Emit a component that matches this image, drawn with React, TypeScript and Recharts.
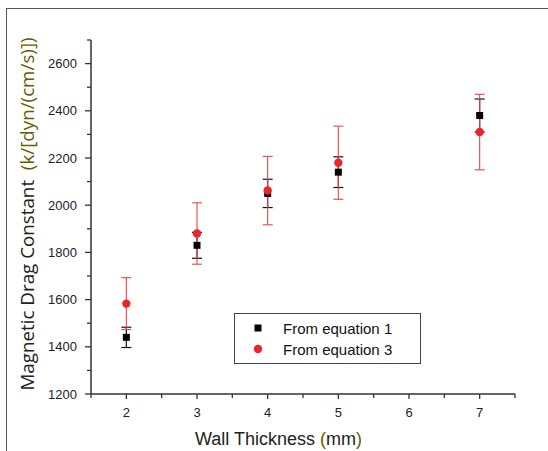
import React from "react";
import { ScatterChart, Scatter, XAxis, YAxis, ErrorBar, Legend } from "recharts";

const thickness = [2, 3, 4, 5, 7];
const eq1Values = [1440, 1830, 2050, 2140, 2380];
const eq1Errors = [43, 55, 60, 65, 70];
const eq3Values = [1583, 1880, 2062, 2180, 2310];
const eq3Errors = [110, 130, 145, 155, 160];

const xTicks = [1.5, 2, 2.5, 3, 3.5, 4, 4.5, 5, 5.5, 6, 6.5, 7, 7.5];
const xLabels = [2, 3, 4, 5, 6, 7];
const yTicks = [1200, 1300, 1400, 1500, 1600, 1700, 1800, 1900, 2000, 2100, 2200, 2300, 2400, 2500, 2600, 2700];
const yLabels = [1200, 1400, 1600, 1800, 2000, 2200, 2400, 2600];

const eq1Data = thickness.map((x, i) => ({ x, y: eq1Values[i], err: eq1Errors[i] }));
const eq3Data = thickness.map((x, i) => ({ x, y: eq3Values[i], err: eq3Errors[i] }));

const FONT = "Arial, 'Liberation Sans', sans-serif";
const AXIS = "#333";
const RED = "#e8262b";
const OLIVE = "#6b5a00";

const XTick = ({ x, y, payload }: any) => {
  const major = xLabels.includes(payload.value);
  return (
    <g>
      <line x1={x} x2={x} y1={y} y2={y + (major ? 5 : 4)} stroke={AXIS} strokeWidth={1.3} />
      {major && (
        <text x={x} y={y + 23} textAnchor="middle" fontSize={13} fontFamily={FONT} fill="#222">
          {payload.value}
        </text>
      )}
    </g>
  );
};

const YTick = ({ x, y, payload }: any) => {
  const major = yLabels.includes(payload.value);
  return (
    <g>
      <line x1={x - (major ? 6 : 4)} x2={x} y1={y} y2={y} stroke={AXIS} strokeWidth={1.3} />
      {major && (
        <text x={x - 14} y={y + 4.5} textAnchor="end" fontSize={13} fontFamily={FONT} fill="#222">
          {payload.value}
        </text>
      )}
    </g>
  );
};

const SquareShape = ({ cx, cy }: any) => <rect x={cx - 3.5} y={cy - 3.5} width={7} height={7} fill="#000" />;
const CircleShape = ({ cx, cy }: any) => <circle cx={cx} cy={cy} r={4.2} fill={RED} />;

const LegendBox = () => (
  <div
    style={{
      position: "relative",
      width: 187,
      height: 51,
      boxSizing: "border-box",
      border: "1.5px solid #444",
      background: "#fff",
      fontFamily: FONT,
      fontSize: 15,
      color: "#111",
    }}
  >
    <svg width={14} height={51} style={{ position: "absolute", left: 16, top: 0 }}>
      <rect x={3.5} y={10.5} width={7} height={7} fill="#000" />
      <circle cx={7} cy={35} r={4.2} fill={RED} />
    </svg>
    <div style={{ position: "absolute", left: 48, top: 5, lineHeight: "20px", whiteSpace: "nowrap" }}>From equation 1</div>
    <div style={{ position: "absolute", left: 48, top: 26, lineHeight: "20px", whiteSpace: "nowrap" }}>From equation 3</div>
  </div>
);

export default function App() {
  return (
    <div style={{ position: "absolute", left: 0, top: 0, width: 548, height: 451, overflow: "hidden", background: "#fff" }}>
      <div
        style={{
          position: "absolute",
          left: 6,
          top: 8,
          width: 560,
          height: 470,
          borderTop: "1.5px solid #555",
          borderLeft: "1.5px solid #555",
        }}
      />
      <ScatterChart width={548} height={451} margin={{ top: 40, right: 33, bottom: 0, left: 0 }}>
        <XAxis
          type="number"
          dataKey="x"
          domain={[1.5, 7.5]}
          ticks={xTicks}
          interval={0}
          height={57}
          tickSize={0}
          tickMargin={0}
          tick={<XTick />}
          axisLine={{ stroke: AXIS, strokeWidth: 1.5 }}
          tickLine={false}
        />
        <YAxis
          type="number"
          dataKey="y"
          domain={[1200, 2700]}
          ticks={yTicks}
          interval={0}
          width={91}
          tickSize={0}
          tickMargin={0}
          tick={<YTick />}
          axisLine={{ stroke: AXIS, strokeWidth: 1.5 }}
          tickLine={false}
        />
        <Scatter name="From equation 1" data={eq1Data} shape={<SquareShape />} fill="#000" isAnimationActive={false}>
          <ErrorBar dataKey="err" direction="y" width={5} stroke="#111" strokeWidth={1.2} />
        </Scatter>
        <Scatter name="From equation 3" data={eq3Data} shape={<CircleShape />} fill={RED} isAnimationActive={false}>
          <ErrorBar dataKey="err" direction="y" width={5} stroke="#e8474a" strokeWidth={1.1} />
        </Scatter>
        <Legend
          layout="vertical"
          align="center"
          verticalAlign="middle"
          content={<LegendBox />}
          wrapperStyle={{ position: "absolute", left: 234, top: 313, width: 187, height: 51 }}
        />
      </ScatterChart>
      <div
        style={{
          position: "absolute",
          left: 195,
          top: 428,
          fontFamily: FONT,
          fontSize: 18,
          color: "#222",
          whiteSpace: "nowrap",
          lineHeight: "22px",
        }}
      >
        Wall Thickness <span style={{ color: OLIVE }}>(</span>mm<span style={{ color: OLIVE }}>)</span>
      </div>
      <div
        style={{
          position: "absolute",
          left: 27,
          top: 214,
          transform: "translate(-50%, -50%) rotate(-90deg)",
          fontFamily: "'Open Sans', sans-serif",
          fontSize: 18.8,
          color: "#222",
          whiteSpace: "nowrap",
          lineHeight: "22px",
        }}
      >
        Magnetic Drag Constant&nbsp;&nbsp;<span style={{ color: OLIVE }}>(k/[dyn/(cm/s)])</span>
      </div>
    </div>
  );
}
